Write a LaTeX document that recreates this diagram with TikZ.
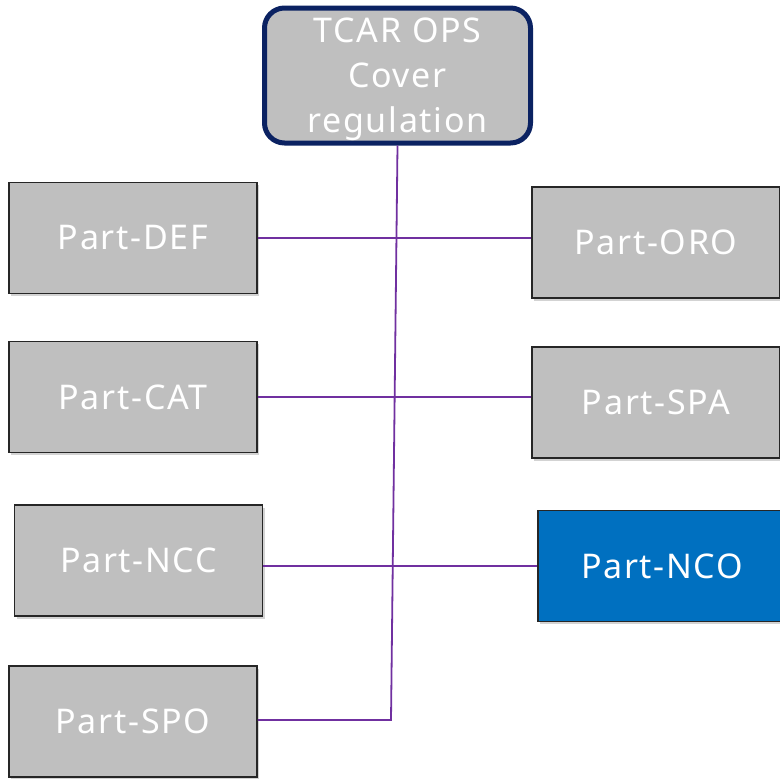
\documentclass[tikz,border=0pt]{standalone}
\usepackage{fontspec}
\setmainfont{Noto Sans}[LetterSpace=5]
\usetikzlibrary{shadows}
\definecolor{boxgray}{HTML}{BFBFBF}
\definecolor{navy}{HTML}{0B2262}
\definecolor{linkpurple}{HTML}{7030A0}
\definecolor{partblue}{HTML}{0070C0}
\begin{document}
\begin{tikzpicture}[x=1pt,y=-1pt,
  part/.style={draw=black!85, line width=1.5pt, fill=boxgray, text=white,
    minimum width=248pt, minimum height=111pt, inner sep=0pt,
    font=\fontsize{34}{45}\selectfont,
    drop shadow={opacity=0.35, shadow xshift=2pt, shadow yshift=-2.5pt}},
  head/.style={draw=navy, line width=5pt, fill=boxgray, text=white,
    rounded corners=20pt, minimum width=266pt, minimum height=134pt,
    inner sep=0pt, font=\fontsize{34}{45}\selectfont},
  link/.style={draw=linkpurple, line width=1.8pt}]
\useasboundingbox (0,0) rectangle (779,779);
\node[head] (top) at (397.5,75.5)
  {\raisebox{-2.5pt}[\height][\depth]{\begin{tabular}{@{}c@{}}TCAR OPS\\Cover\\regulation\end{tabular}}};
\node[part] (def) at (133,238) {Part-DEF};
\node[part] (cat) at (133,397) {Part-CAT};
\node[part] (ncc) at (138.5,560.5) {Part-NCC};
\node[part] (spo) at (133,721.5) {Part-SPO};
\node[part] (oro) at (656,242.5) {Part-ORO};
\node[part] (spa) at (656,402.5) {Part-SPA};
\node[part, fill=partblue] (nco) at (662,566) {Part-NCO};
\coordinate (bend) at (391,720);
\draw[link] (top.south) -- (bend) -- (spo.east |- bend);
\draw[link] (def.east) -- (oro.west |- def.east);
\draw[link] (cat.east) -- (spa.west |- cat.east);
\draw[link] (ncc.east |- nco.west) -- (nco.west);
\end{tikzpicture}
\end{document}
